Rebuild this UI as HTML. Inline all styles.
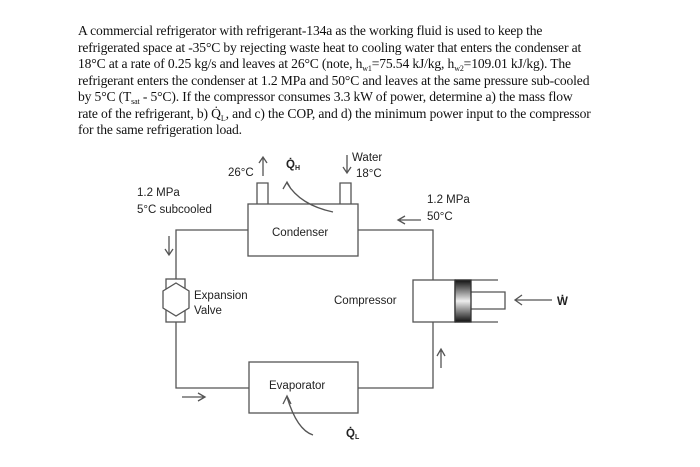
<!DOCTYPE html>
<html><head><style>
body{margin:0;width:700px;height:467px;background:#fff;position:relative;overflow:hidden}
.p{position:absolute;left:78px;top:23px;width:580px;font-family:"Liberation Serif",serif;font-size:13.6px;line-height:16.5px;color:#111;letter-spacing:-0.15px}
.p div{white-space:nowrap;height:16.5px}
.s{font-size:8px;position:relative;top:3px;line-height:0}
svg{position:absolute;left:0;top:0}
svg text{font-family:"Liberation Sans",sans-serif;font-size:11.5px;fill:#222}
</style></head><body>
<div class="p">
<div>A commercial refrigerator with refrigerant-134a as the working fluid is used to keep the</div>
<div>refrigerated space at -35°C by rejecting waste heat to cooling water that enters the condenser at</div>
<div>18°C at a rate of 0.25 kg/s and leaves at 26°C (note, h<span class="s">w1</span>=75.54 kJ/kg, h<span class="s">w2</span>=109.01 kJ/kg). The</div>
<div>refrigerant enters the condenser at 1.2 MPa and 50°C and leaves at the same pressure sub-cooled</div>
<div>by 5°C (T<span class="s">sat</span> - 5°C). If the compressor consumes 3.3 kW of power, determine a) the mass flow</div>
<div>rate of the refrigerant, b) Q̇<span class="s">L</span>, and c) the COP, and d) the minimum power input to the compressor</div>
<div>for the same refrigeration load.</div>
</div>
<svg width="700" height="467" viewBox="0 0 700 467">
<defs><linearGradient id="g" x1="0" x2="0" y1="0" y2="1"><stop offset="0" stop-color="#111"/><stop offset="0.5" stop-color="#eee"/><stop offset="1" stop-color="#111"/></linearGradient></defs>
<g fill="none" stroke="#555" stroke-width="1.3">
<rect x="248" y="204" width="110" height="52"/>
<path d="M257 204V183H268V204M340 204V183H351V204"/>
<path d="M248 230H176V279M176 322V388H249M358 388H433V322M358 230H433V280"/>
<rect x="166" y="279" width="19" height="43"/>
<path d="M176 283L189 291V308L176 316L163 308V291Z" fill="#fff"/>
<rect x="413" y="280" width="42" height="42"/>
<path d="M455 280H498M455 322H498M471 292H505V309H471"/>
<rect x="455" y="280" width="16" height="42" fill="url(#g)" stroke="#333"/>
<rect x="249" y="362" width="109" height="51"/>
<path d="M263 176V158M259 163L263 157L267 163"/>
<path d="M347 155V172M343 167L347 173L351 167"/>
<path d="M333 212Q300 205 287 183M283 189L287 182L291 189"/>
<path d="M313 435Q297 430 287 397M283 404L287 396L291 404"/>
<path d="M421 220H399M405 216L398 220L405 224"/>
<path d="M169 236V254M165 249L169 255L173 249"/>
<path d="M182 397H204M198 393L205 397L198 401"/>
<path d="M441 368V350M437 356L441 349L445 356"/>
<path d="M552 300H515M522 295L515 300L522 305"/>
</g>
<text x="228" y="176">26°C</text>
<text x="286" y="168" font-weight="bold">Q̇<tspan font-size="7" dy="2">H</tspan></text>
<text x="352" y="161">Water</text>
<text x="356" y="177">18°C</text>
<text x="137" y="196">1.2 MPa</text>
<text x="137" y="213">5°C subcooled</text>
<text x="427" y="203">1.2 MPa</text>
<text x="427" y="220">50°C</text>
<text x="272" y="236">Condenser</text>
<text x="194" y="299">Expansion</text>
<text x="194" y="314">Valve</text>
<text x="334" y="304">Compressor</text>
<text x="557" y="305" font-weight="bold">Ẇ</text>
<text x="269" y="389">Evaporator</text>
<text x="346" y="437" font-weight="bold">Q̇<tspan font-size="7" dy="2">L</tspan></text>
</svg>
</body></html>
